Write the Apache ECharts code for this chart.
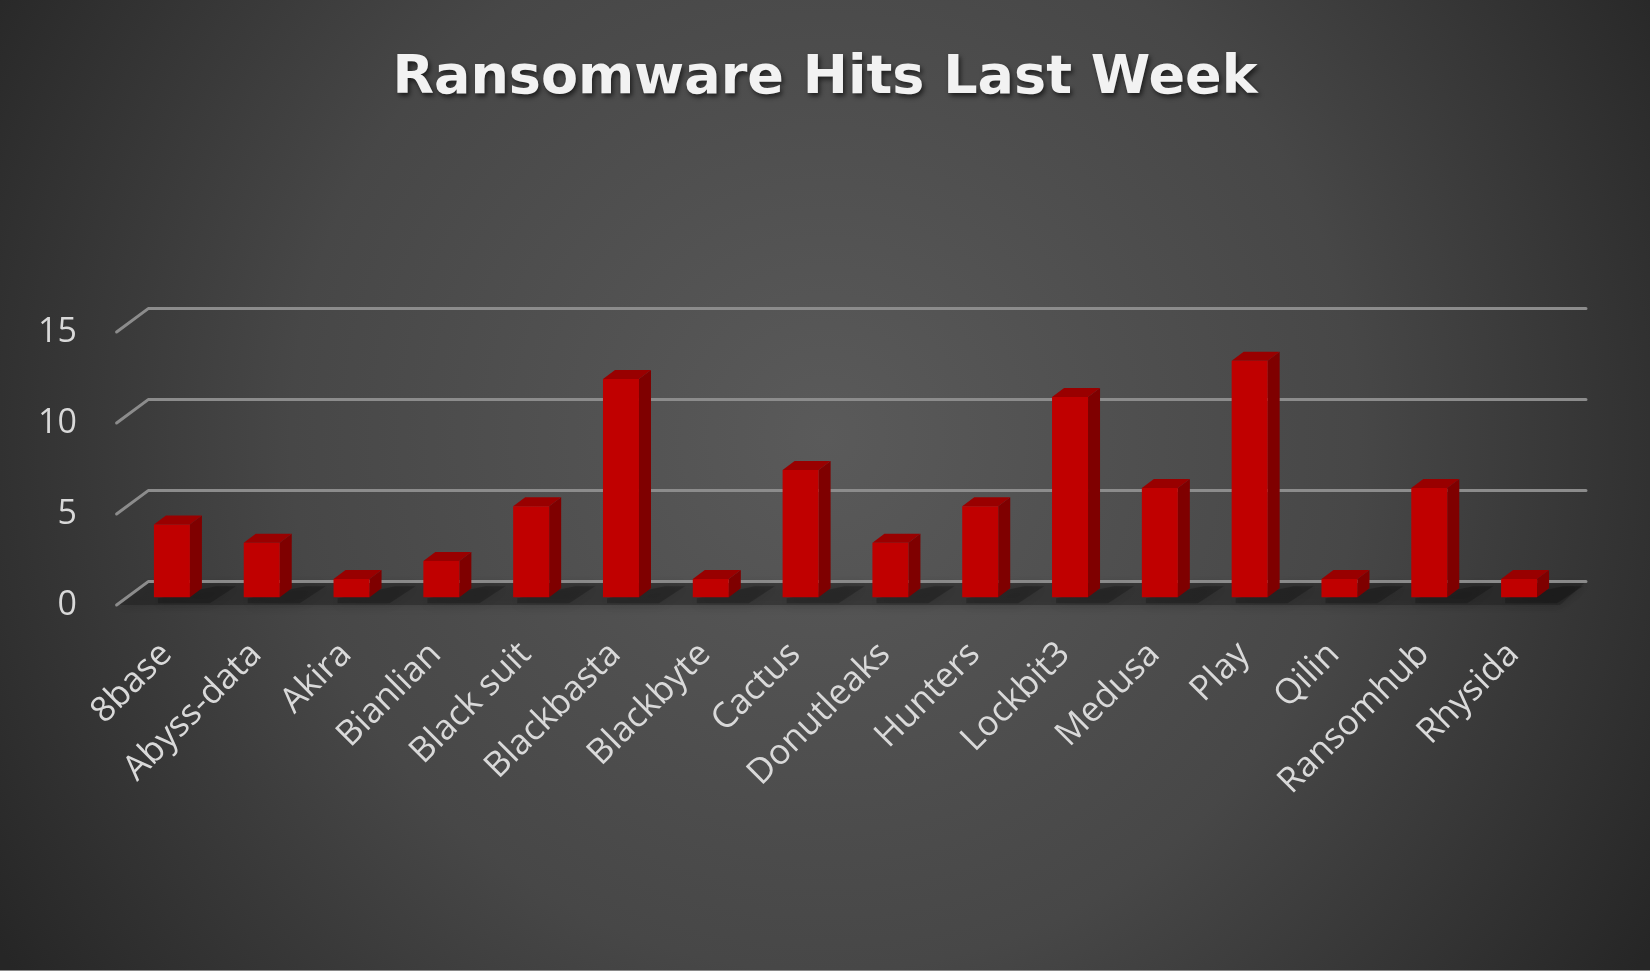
<!DOCTYPE html>
<html>
<head>
<meta charset="utf-8">
<script src="https://cdn.jsdelivr.net/npm/echarts@6/dist/echarts.min.js"></script>
<style>
html,body{margin:0;padding:0;background:#333;}
#chart{width:1650px;height:976px;}
</style>
</head>
<body>
<div id="chart"></div>
<script>
var categories = ['8base','Abyss-data','Akira','Bianlian','Black suit','Blackbasta','Blackbyte','Cactus','Donutleaks','Hunters','Lockbit3','Medusa','Play','Qilin','Ransomhub','Rhysida'];
var hits = [4,3,1,2,5,12,1,7,3,5,11,6,13,1,6,1];
var yTicks = [0,5,10,15];
var titleText = 'Ransomware Hits Last Week';

// perspective geometry (pixels)
var DEPTH_X = 31.6, DEPTH_Y = 23.4;   // floor depth of the gridlines
var FRONT_OFF_X = 10.4;                // gridline front-left starts left of the plot
var BAR_W = 36, BAR_DX = 12, BAR_DY = 9, BAR_LIFT = 7.7;
var GRID_RIGHT_X = 1586;

var chart = echarts.init(document.getElementById('chart'), null, {renderer:'canvas'});

var option = {
  backgroundColor: 'transparent',
  animation: false,
  graphic: [
    {type:'rect', z:-10, silent:true, shape:{x:0,y:0,width:1650,height:971},
     style:{fill:{type:'radial', x:0.5, y:0.45, r:1.0,
       colorStops:[{offset:0,color:'#5a5a5a'},{offset:0.55,color:'#474747'},{offset:1,color:'#262626'}]}}},
    {type:'rect', z:-10, silent:true, shape:{x:0,y:970,width:1650,height:1}, style:{fill:'#8a8a8a'}},
    {type:'rect', z:-10, silent:true, shape:{x:0,y:971,width:1650,height:5}, style:{fill:'#ffffff'}}
  ],
  title: {
    text: titleText,
    left: 'center',
    top: 47,
    textStyle: {
      color: '#f2f2f2',
      fontFamily: 'DejaVu Sans',
      fontWeight: 'bold',
      fontSize: 54,
      textShadowColor: 'rgba(0,0,0,0.6)',
      textShadowBlur: 5,
      textShadowOffsetX: 2,
      textShadowOffsetY: 3
    }
  },
  grid: {left: 127, right: 86, top: 332, bottom: 371, containLabel: false},
  xAxis: {
    type: 'category',
    data: categories,
    axisLine: {show:false},
    axisTick: {show:false},
    axisLabel: {
      rotate: 45,
      margin: 38,
      padding: [0, 8, 0, 0],
      interval: 0,
      color: '#d9d9d9',
      fontFamily: 'Open Sans',
      fontSize: 35
    }
  },
  yAxis: {
    type: 'value',
    min: 0,
    max: 15,
    interval: 5,
    axisLine: {show:false},
    axisTick: {show:false},
    splitLine: {show:false},
    axisLabel: {
      margin: 50,
      color: '#d9d9d9',
      fontFamily: 'Open Sans',
      fontSize: 34
    }
  },
  series: [
    {
      // floor
      type: 'custom',
      silent: true,
      z: 1,
      data: [[0,0]],
      renderItem: function(params, api){
        var cs = params.coordSys;
        var y0 = api.coord([0,0])[1];
        var fx = cs.x - FRONT_OFF_X;
        return {
          type:'polygon',
          shape:{points:[[fx+2,y0],[fx+DEPTH_X,y0-DEPTH_Y],[GRID_RIGHT_X,y0-DEPTH_Y],[GRID_RIGHT_X-26,y0]]},
          style:{fill:'rgba(28,28,28,0.4)', shadowBlur:8, shadowColor:'rgba(0,0,0,0.3)', shadowOffsetY:2}
        };
      }
    },
    {
      // perspective gridlines
      type: 'custom',
      silent: true,
      z: 2,
      data: yTicks.map(function(v){return [0,v];}),
      renderItem: function(params, api){
        var cs = params.coordSys;
        var y = api.coord([0, api.value(1)])[1];
        var fx = cs.x - FRONT_OFF_X;
        return {
          type:'polyline',
          shape:{points:[[fx,y],[fx+DEPTH_X,y-DEPTH_Y],[GRID_RIGHT_X,y-DEPTH_Y]]},
          style:{stroke:'#8c8c8c', lineWidth:3, fill:null, lineJoin:'round', lineCap:'round'}
        };
      }
    },
    {
      // 3D bars with a soft floor shadow
      type: 'custom',
      z: 3,
      data: hits.map(function(v,i){return [i,v];}),
      renderItem: function(params, api){
        var top = api.coord([api.value(0), api.value(1)]);
        var base = api.coord([api.value(0), 0]);
        var cx = top[0];
        var x0 = cx - BAR_W/2, x1 = cx + BAR_W/2;
        var yt = top[1] - BAR_LIFT, yb = base[1] - BAR_LIFT;
        return {
          type:'group',
          children:[
            {type:'polygon', silent:true,
             shape:{points:[[x0+4,yb+1],[x1+BAR_DX+14,yb-BAR_DY-2],[x1+BAR_DX+34,yb-BAR_DY-2],[x1+20,yb+6],[x0+4,yb+6]]},
             style:{fill:'rgba(0,0,0,0.22)', shadowBlur:12, shadowColor:'rgba(0,0,0,0.5)'}},
            {type:'polygon', shape:{points:[[x1,yt],[x1+BAR_DX,yt-BAR_DY],[x1+BAR_DX,yb-BAR_DY],[x1,yb]]},
             style:{fill:'#7f0000'}},
            {type:'polygon', shape:{points:[[x0,yt],[x0+BAR_DX,yt-BAR_DY],[x1+BAR_DX,yt-BAR_DY],[x1,yt]]},
             style:{fill:'#990000'}},
            {type:'rect', shape:{x:x0,y:yt,width:BAR_W,height:yb-yt},
             style:{fill:'#c00000'}}
          ]
        };
      }
    }
  ]
};
chart.setOption(option);
</script>
</body>
</html>
